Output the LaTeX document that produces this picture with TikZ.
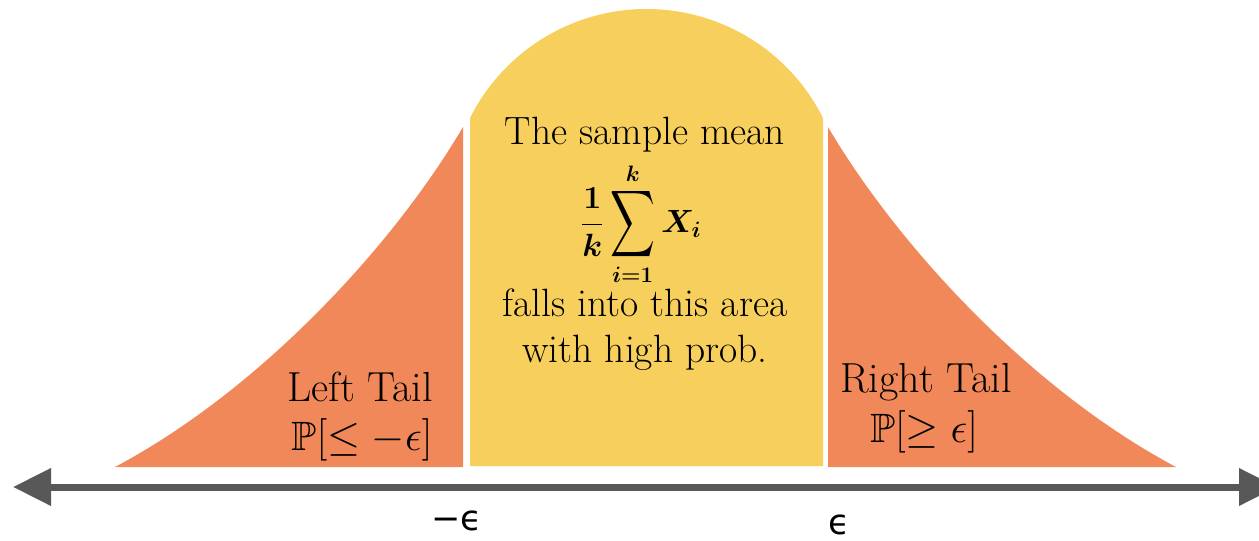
\documentclass[tikz,border=0pt]{standalone}
\usepackage{amsmath,amssymb}
\usepackage{graphicx}
\usepackage{fontspec}
\newfontfamily\axisfont{DejaVu Sans}
\usetikzlibrary{arrows.meta}
\definecolor{tailorange}{HTML}{F0885A}
\definecolor{meanyellow}{HTML}{F7CF5C}
\definecolor{axisgray}{HTML}{585858}
\newsavebox{\formulabox}
\newsavebox{\leftprobbox}
\newsavebox{\rightprobbox}
\newcommand{\tallsum}{\mathop{\vcenter{\hbox{\scalebox{1.0}[1.5]{$\displaystyle\sum$}}}}\limits}
\tikzset{
  meantext/.style={inner sep=0pt, font=\fontsize{39.5}{46}\selectfont, text=black},
  tailtext/.style={inner sep=0pt, font=\fontsize{42}{50}\selectfont, text=black},
  axislabel/.style={inner sep=0pt, font=\axisfont\fontsize{35}{40}\selectfont, text=black},
  axisline/.style={draw=axisgray, line width=7pt,
    {Triangle[length=38pt,width=36pt]}-{Triangle[length=38pt,width=36pt]}},
}
\begin{document}
\sbox{\formulabox}{\scalebox{1.55}{\fontsize{20}{24}\selectfont\boldmath$\displaystyle \frac{1}{k}\tallsum_{i=1}^{k} X_{i}$}}%
\sbox{\leftprobbox}{\scalebox{2.05}{\fontsize{20}{24}\selectfont$\mathbb{P}[\leq -\epsilon]$}}%
\sbox{\rightprobbox}{\scalebox{2.05}{\fontsize{20}{24}\selectfont$\mathbb{P}[\geq \epsilon]$}}%
\begin{tikzpicture}[x=1pt,y=-1pt]
\useasboundingbox (0,0) rectangle (1259,541);
\clip (0,0) rectangle (1259,541);
% central region
\fill[meanyellow] (470,466) -- (470,118)
  .. controls (503.5,51.2) and (571.8,9) .. (646.5,9)
  .. controls (721.2,9) and (789.5,51.2) .. (823,118)
  -- (823,466) -- cycle;
% left tail
\fill[tailorange] (115,467) .. controls (260,390) and (393,246) .. (463,127) -- (463,467) -- cycle;
% right tail
\fill[tailorange] (1176,467) .. controls (1031,390) and (898,246) .. (828,127) -- (828,467) -- cycle;
% axis
\coordinate (axL) at (13,487);
\coordinate (axR) at (1277,487);
\draw[axisline] (axL) -- (axR);
% texts
\node[meantext, anchor=base] (mean1) at (645,144) {The sample mean};
\node[meantext] (formula) at (641,224) {\usebox{\formulabox}};
\node[meantext, anchor=base] (fall1) at (645,316) {falls into this area};
\node[meantext, anchor=base] (fall2) at (645,362) {with high prob.};
\node[tailtext, anchor=base] (lt1) at (360,401) {Left Tail};
\node[tailtext, anchor=base] (lt2) at (362,450) {\usebox{\leftprobbox}};
\node[tailtext, anchor=base] (rt1) at (926,392) {Right Tail};
\node[tailtext, anchor=base] (rt2) at (924,442) {\usebox{\rightprobbox}};
\node[axislabel] (negeps) at (457,521) {−ϵ};
\node[axislabel] (poseps) at (839,525) {ϵ};
\end{tikzpicture}
\end{document}
